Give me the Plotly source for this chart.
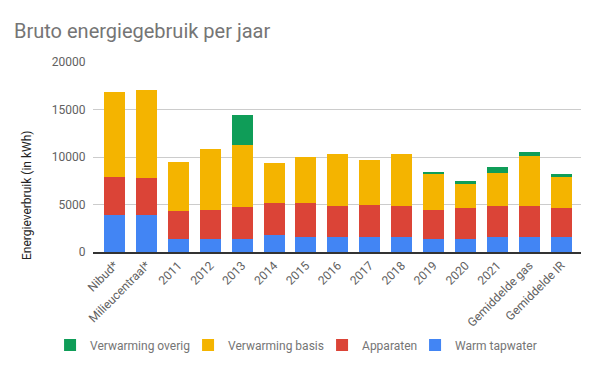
import plotly.graph_objects as go

categories = ["Nibud*", "Milieucentraal*", "2011", "2012", "2013", "2014", "2015",
              "2016", "2017", "2018", "2019", "2020", "2021",
              "Gemiddelde gas", "Gemiddelde IR"]
warm_tapwater = [3850, 3900, 1400, 1400, 1400, 1750, 1550, 1550, 1600, 1550, 1400, 1400, 1550, 1550, 1550]
apparaten = [4050, 3900, 2950, 3050, 3350, 3400, 3600, 3300, 3350, 3300, 3000, 3250, 3300, 3300, 3100]
verwarming_basis = [8950, 9250, 5150, 6400, 6500, 4250, 4800, 5450, 4750, 5450, 3850, 2550, 3450, 5250, 3250]
verwarming_overig = [None, None, None, None, 3150, None, None, None, None, None, 150, 250, 650, 400, 300]
y_ticks = [0, 5000, 10000, 15000, 20000]
y_tick_labels = ["0", "5000", "10000", "15000", "20000"]

series = [
    ("Warm tapwater", warm_tapwater, "#4285F4", None),
    ("Apparaten", apparaten, "#DB4437", 48),
    ("Verwarming basis", verwarming_basis, "#F4B400", 89),
    ("Verwarming overig", verwarming_overig, "#0F9D58", 93),
]

fig = go.Figure()
for name, vals, color, lw in series:
    bar = go.Bar(
        name=name, x=categories, y=vals, marker=dict(color=color, line=dict(width=0)),
        width=0.66,
    )
    if lw is not None:
        bar.legendwidth = lw
    fig.add_trace(bar)

fig.update_layout(
    barmode="stack",
    width=600, height=371,
    margin=dict(l=93, r=19, t=62, b=119, autoexpand=False),
    paper_bgcolor="white", plot_bgcolor="white",
    font=dict(family="Roboto", size=12, color="#616161"),
    title=dict(text="Bruto energiegebruik per jaar", x=14/600, xanchor="left",
               y=1 - 31/371, yanchor="middle",
               font=dict(family="Roboto", size=20, color="#757575")),
    showlegend=True,
    legend=dict(orientation="h", traceorder="reversed", x=-0.088, xanchor="left",
                y=-0.49, yanchor="middle", font=dict(size=12, color="#757575"),
                bgcolor="rgba(0,0,0,0)"),
    xaxis=dict(type="category", range=[-0.674, 14.62], tickangle=-45, automargin=False,
               showgrid=False, showline=True, linecolor="#333333", linewidth=1.5,
               ticks="", tickfont=dict(size=12, color="#616161")),
    yaxis=dict(range=[0, 20000], tickvals=y_ticks, ticktext=y_tick_labels, automargin=False,
               showgrid=True, gridcolor="#cccccc",
               gridwidth=1, zeroline=False, showline=False, ticks="outside",
               ticklen=4, tickcolor="rgba(0,0,0,0)",
               tickfont=dict(size=12, color="#616161")),
    annotations=[dict(text="Energieverbruik (in kWh)", textangle=-90, xref="paper",
                      yref="paper", x=(27-93)/488, y=(252-196)/190, xanchor="center",
                      yanchor="middle", showarrow=False,
                      font=dict(size=12, color="#222222"))],
)

fig.write_html("out.html", config={"displayModeBar": False},
               post_script="document.body.style.margin='0';document.body.style.overflow='hidden';")
